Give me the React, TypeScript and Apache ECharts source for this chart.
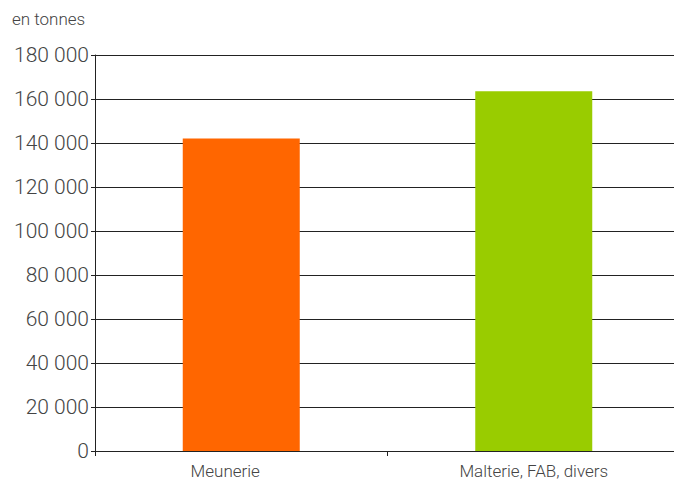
import React, { useEffect, useRef } from "react";
import * as echarts from "echarts";

const categories = ["Meunerie", "Malterie, FAB, divers"];
const values = [142000, 163500];
const barColors = ["#FF6600", "#99CC00"];
const unitLabel = "en tonnes";

const fmt = (v: number) => String(v).replace(/\B(?=(\d{3})+(?!\d))/g, " ");

export default function App() {
  const ref = useRef<HTMLDivElement>(null);
  useEffect(() => {
    const chart = echarts.init(ref.current!, undefined, { renderer: "svg" });
    chart.setOption({
      animation: false,
      backgroundColor: "#ffffff",
      grid: { left: 95, right: 0, top: 55, bottom: 30, containLabel: false },
      graphic: [
        {
          type: "text",
          left: 12,
          top: 10,
          style: {
            text: unitLabel,
            fill: "#444",
            font: "300 17px Roboto",
          },
        },
      ],
      xAxis: {
        type: "category",
        data: categories.map((c, i) =>
          i === 0 ? { value: c, textStyle: { padding: [0, 32, 0, 0] } } : c
        ),
        axisLine: { show: true, lineStyle: { color: "#222", width: 1 } },
        axisTick: { show: true, length: 5, lineStyle: { color: "#222" } },
        axisLabel: {
          color: "#444",
          fontFamily: "Roboto",
          fontWeight: 300,
          fontSize: 17,
          margin: 11,
        },
        splitLine: { show: false },
      },
      yAxis: {
        type: "value",
        min: 0,
        max: 180000,
        interval: 20000,
        axisLine: { show: true, lineStyle: { color: "#222", width: 1 } },
        axisTick: { show: true, length: 4, lineStyle: { color: "#222" } },
        axisLabel: {
          color: "#444",
          fontFamily: "Roboto",
          fontWeight: 300,
          fontSize: 21,
          margin: 6,
          formatter: (v: number) => fmt(v),
        },
        splitLine: { show: true, lineStyle: { color: "#222", width: 1 } },
      },
      series: [
        {
          type: "bar",
          barWidth: 117,
          data: values.map((v, i) => ({ value: v, itemStyle: { color: barColors[i] } })),
        },
      ],
    });
    return () => chart.dispose();
  }, []);
  return (
    <div
      ref={ref}
      style={{ position: "fixed", left: 0, top: 0, width: 680, height: 481, background: "#fff" }}
    />
  );
}
